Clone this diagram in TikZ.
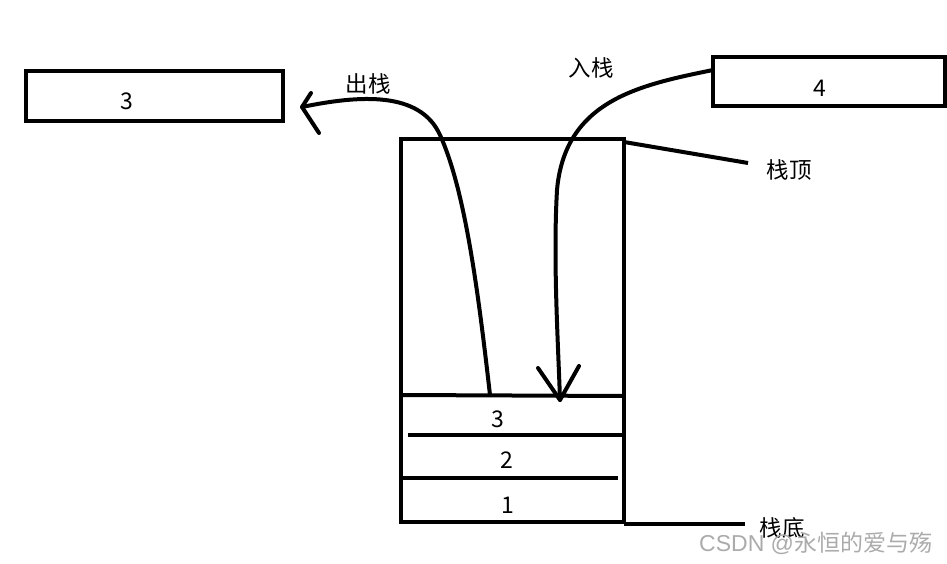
\documentclass[tikz,border=0pt]{standalone}
\usepackage{fontspec}
\setmainfont{Noto Sans CJK SC}
\newfontfamily\wmlatin{Liberation Sans}
\begin{document}
\begin{tikzpicture}[x=1pt,y=-1pt,
  thick line/.style={line width=4pt},
  lbl/.style={inner sep=0pt,font=\fontsize{23}{26}\selectfont},
  cjklbl/.style={inner sep=0pt,font=\fontsize{22.5}{26}\selectfont},
  boxshape/.style={draw,line width=4pt,inner sep=0pt}]
\useasboundingbox (0,0) rectangle (947,564);
\begin{scope}
\clip (0,0) rectangle (947,564);
% left box
\node[boxshape,minimum width=257pt,minimum height=50pt] (outbox) at (154.5,96) {};
\node[lbl] (outnum) at (127,101) {3};
% right box
\node[boxshape,minimum width=232pt,minimum height=49pt] (inbox) at (829,81.5) {};
\node[lbl] (innum) at (820,88) {4};
% stack
\node[boxshape,minimum width=223pt,minimum height=383pt] (stack) at (512.5,330.5) {};
\end{scope}
\coordinate (l1a) at (401,395); \coordinate (l1b) at (624,396);
\coordinate (l2a) at (408,435); \coordinate (l2b) at (622,435);
\coordinate (l3a) at (401,478); \coordinate (l3b) at (618,478);
\draw[thick line] (l1a) -- (l1b);
\draw[thick line] (l2a) -- (l2b);
\draw[thick line] (l3a) -- (l3b);
\node[lbl] (n3) at (498,419) {3};
\node[lbl] (n2) at (507,460) {2};
\node[lbl] (n1) at (508,505) {1};
% top / bottom pointers
\coordinate (topa) at (624,142); \coordinate (topb) at (748,163);
\draw[thick line] (topa) -- (topb);
\node[cjklbl] (toplbl) at (789,170) {栈顶};
\coordinate (bota) at (624,524); \coordinate (botb) at (745,524);
\draw[thick line] (bota) -- (botb);
\node[cjklbl] (botlbl) at (782,528) {栈底};
% pop arrow
\coordinate (pops) at (490,395);
\coordinate (popm) at (440,135);
\coordinate (pope) at (302,107);
\draw[thick line,line cap=round] (pops) .. controls (478,290) and (465,190) .. (popm)
  .. controls (420,91) and (360,95) .. (pope);
\coordinate (popw1) at (311,93); \coordinate (popw2) at (319,133);
\draw[thick line,line cap=round,line join=round] (popw1) -- (pope) -- (popw2);
\node[cjklbl] (poplbl) at (368,84) {出栈};
% push arrow
\coordinate (pushs) at (713,70);
\coordinate (pushm) at (557,190);
\coordinate (pushe) at (560,400);
\draw[thick line,line cap=round] (pushs) .. controls (640,85) and (565,100) .. (pushm)
  .. controls (553,260) and (558,340) .. (pushe);
\coordinate (pushw1) at (538,368); \coordinate (pushw2) at (579,366);
\draw[thick line,line cap=round,line join=round] (pushw1) -- (pushe) -- (pushw2);
\node[cjklbl] (pushlbl) at (591,68) {入栈};
% watermark
\node[inner sep=0pt,anchor=west,text=black!33,font=\fontsize{23}{26}\selectfont] (wm) at (699,543) {{\wmlatin CSDN @}永恒的爱与殇};
\end{tikzpicture}
\end{document}
